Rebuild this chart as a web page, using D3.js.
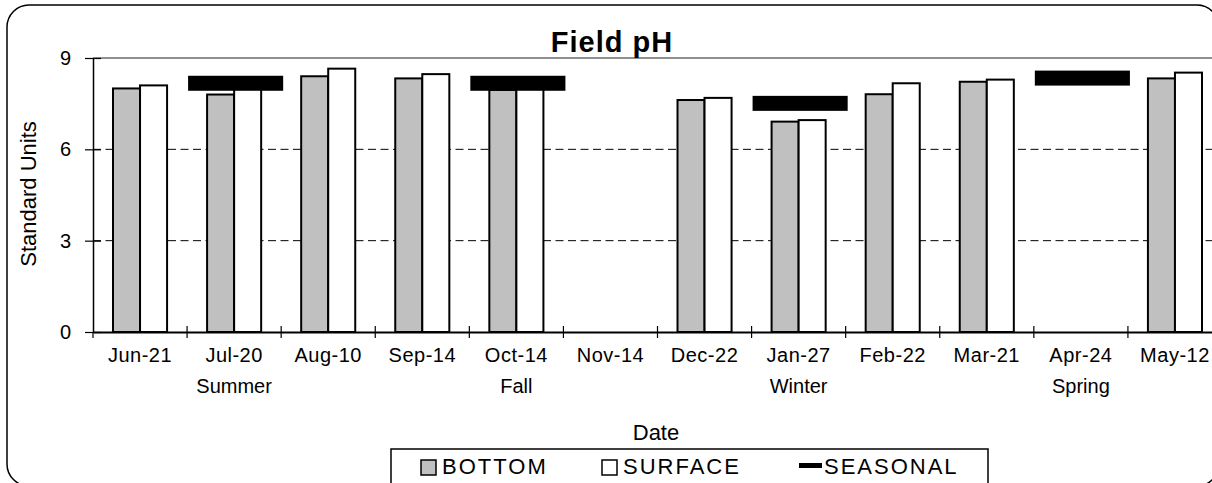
<!DOCTYPE html>
<html>
<head>
<meta charset="utf-8">
<script src="https://cdn.jsdelivr.net/npm/d3@7"></script>
<style>
  body { margin: 0; background: #fff; }
  text { font-family: "Liberation Sans", Arial, sans-serif; fill: #000; }
</style>
</head>
<body>
<svg width="1212" height="483"></svg>
<script>
const dates = ['Jun-21', 'Jul-20', 'Aug-10', 'Sep-14', 'Oct-14', 'Nov-14', 'Dec-22', 'Jan-27', 'Feb-22', 'Mar-21', 'Apr-24', 'May-12'];
const seasons = ['', 'Summer', '', '', 'Fall', '', '', 'Winter', '', '', 'Spring', ''];
const bottom = [8.0, 7.8, 8.4, 8.33, 7.95, null, 7.62, 6.91, 7.81, 8.22, null, 8.33];
const surface = [8.1, 8.0, 8.65, 8.47, 8.05, null, 7.69, 6.96, 8.17, 8.29, null, 8.52];
const seasonal = [null, 8.17, null, null, 8.17, null, null, 7.51, null, null, 8.34, null];
const yTicks = [0, 3, 6, 9];

const svg = d3.select('svg');

const margin = { left: 93, top: 58, right: -10, bottom: 151 };
const width = +svg.attr('width');
const height = +svg.attr('height');
const innerWidth = width - margin.left - margin.right;
const innerHeight = height - margin.top - margin.bottom;

// chart area border (rounded, runs past the picture edge)
svg.append('rect')
  .attr('x', 7).attr('y', 5)
  .attr('width', 1212).attr('height', 481)
  .attr('rx', 22)
  .attr('fill', 'none')
  .attr('stroke', '#000')
  .attr('stroke-width', 1.5);

const g = svg.append('g')
  .attr('transform', `translate(${margin.left},${margin.top})`);

const xScale = d3.scaleBand()
  .domain(dates)
  .range([0, innerWidth])
  .padding(0);

const subScale = d3.scaleBand()
  .domain(['bottom', 'surface'])
  .range([0, xScale.bandwidth()])
  .paddingInner(0)
  .paddingOuter(0.74);

const yScale = d3.scaleLinear()
  .domain([0, 9])
  .range([innerHeight, 0]);

// gridlines
g.selectAll('.grid').data([3, 6])
  .enter().append('line')
    .attr('x1', 0).attr('x2', innerWidth)
    .attr('y1', d => yScale(d)).attr('y2', d => yScale(d))
    .attr('stroke', '#000')
    .attr('stroke-width', 1)
    .attr('stroke-dasharray', '8,4.5');

g.append('line')
  .attr('x1', 0).attr('x2', innerWidth)
  .attr('y1', yScale(9)).attr('y2', yScale(9))
  .attr('stroke', '#909090')
  .attr('stroke-width', 2);

// bars
const barData = [];
dates.forEach((d, i) => {
  if (bottom[i] != null) barData.push({ date: d, key: 'bottom', value: bottom[i] });
  if (surface[i] != null) barData.push({ date: d, key: 'surface', value: surface[i] });
});

g.selectAll('.bar').data(barData)
  .enter().append('rect')
    .attr('x', d => xScale(d.date) + subScale(d.key))
    .attr('y', d => yScale(d.value))
    .attr('width', subScale.bandwidth())
    .attr('height', d => yScale(0) - yScale(d.value))
    .attr('fill', d => d.key === 'bottom' ? '#c0c0c0' : '#fff')
    .attr('stroke', '#000')
    .attr('stroke-width', 2);

// seasonal markers
const seasonData = dates.map((d, i) => ({ date: d, value: seasonal[i] }))
  .filter(d => d.value != null);

g.selectAll('.season').data(seasonData)
  .enter().append('rect')
    .attr('x', d => xScale(d.date) + 1)
    .attr('y', d => yScale(d.value) - 7.5)
    .attr('width', xScale.bandwidth() + 1)
    .attr('height', 15)
    .attr('fill', '#000');

// y axis
const yAxisG = g.append('g')
  .call(d3.axisLeft(yScale).tickValues(yTicks).tickSize(0).tickPadding(22));
yAxisG.select('.domain').attr('stroke', '#000').attr('stroke-width', 1.5);
yAxisG.selectAll('text')
  .style('font-size', '20px')
  .style('font-family', '"Liberation Sans", Arial, sans-serif');
yAxisG.selectAll('.tick').append('line')
  .attr('x1', -8).attr('x2', 8)
  .attr('stroke', '#000')
  .attr('stroke-width', 1.2);

// x axis
const xAxisG = g.append('g')
  .attr('transform', `translate(0,${innerHeight})`)
  .call(d3.axisBottom(xScale).tickSize(0).tickPadding(16));
xAxisG.select('.domain').attr('stroke', '#000').attr('stroke-width', 2);
xAxisG.selectAll('text')
  .style('font-size', '20px')
  .style('letter-spacing', '0.5px')
  .style('font-family', '"Liberation Sans", Arial, sans-serif');

// crossing tick marks at category boundaries
g.selectAll('.xtick').data(dates.slice(1))
  .enter().append('line')
    .attr('x1', d => xScale(d)).attr('x2', d => xScale(d))
    .attr('y1', innerHeight - 6).attr('y2', innerHeight + 6)
    .attr('stroke', '#000')
    .attr('stroke-width', 1.2);
g.append('line')
  .attr('x1', 0).attr('x2', 0)
  .attr('y1', innerHeight).attr('y2', innerHeight + 6)
  .attr('stroke', '#000').attr('stroke-width', 1.2);

// season labels on second row
g.selectAll('.seasonlabel').data(dates.map((d, i) => ({ date: d, label: seasons[i] })).filter(d => d.label))
  .enter().append('text')
    .attr('x', d => xScale(d.date) + xScale.bandwidth() / 2)
    .attr('y', innerHeight + 61)
    .attr('text-anchor', 'middle')
    .style('font-size', '20px')
    .text(d => d.label);

// titles
svg.append('text')
  .attr('x', 612).attr('y', 52)
  .attr('text-anchor', 'middle')
  .style('font-size', '29px')
  .style('font-weight', 'bold')
  .style('letter-spacing', '1px')
  .text('Field pH');

svg.append('text')
  .attr('transform', 'translate(36,194) rotate(-90)')
  .attr('text-anchor', 'middle')
  .style('font-size', '22px')
  .text('Standard Units');

svg.append('text')
  .attr('x', 656).attr('y', 440)
  .attr('text-anchor', 'middle')
  .style('font-size', '22px')
  .text('Date');

// legend
const legend = svg.append('g');
legend.append('rect')
  .attr('x', 391).attr('y', 449)
  .attr('width', 597).attr('height', 40)
  .attr('fill', '#fff')
  .attr('stroke', '#000')
  .attr('stroke-width', 1.5);

const legendItems = [
  { label: 'BOTTOM', x: 421, type: 'box', fill: '#c0c0c0' },
  { label: 'SURFACE', x: 602, type: 'box', fill: '#fff' },
  { label: 'SEASONAL', x: 799, type: 'line', fill: '#000' }
];

legendItems.forEach(d => {
  if (d.type === 'box') {
    legend.append('rect')
      .attr('x', d.x).attr('y', 460)
      .attr('width', 15).attr('height', 15)
      .attr('fill', d.fill)
      .attr('stroke', '#000')
      .attr('stroke-width', 1.5);
  } else {
    legend.append('rect')
      .attr('x', d.x).attr('y', 463)
      .attr('width', 23).attr('height', 5)
      .attr('fill', d.fill);
  }
  legend.append('text')
    .attr('x', d.x + (d.type === 'box' ? 21 : 25))
    .attr('y', 474)
    .style('font-size', '22px')
    .style('letter-spacing', '2px')
    .text(d.label);
});
</script>
</body>
</html>
